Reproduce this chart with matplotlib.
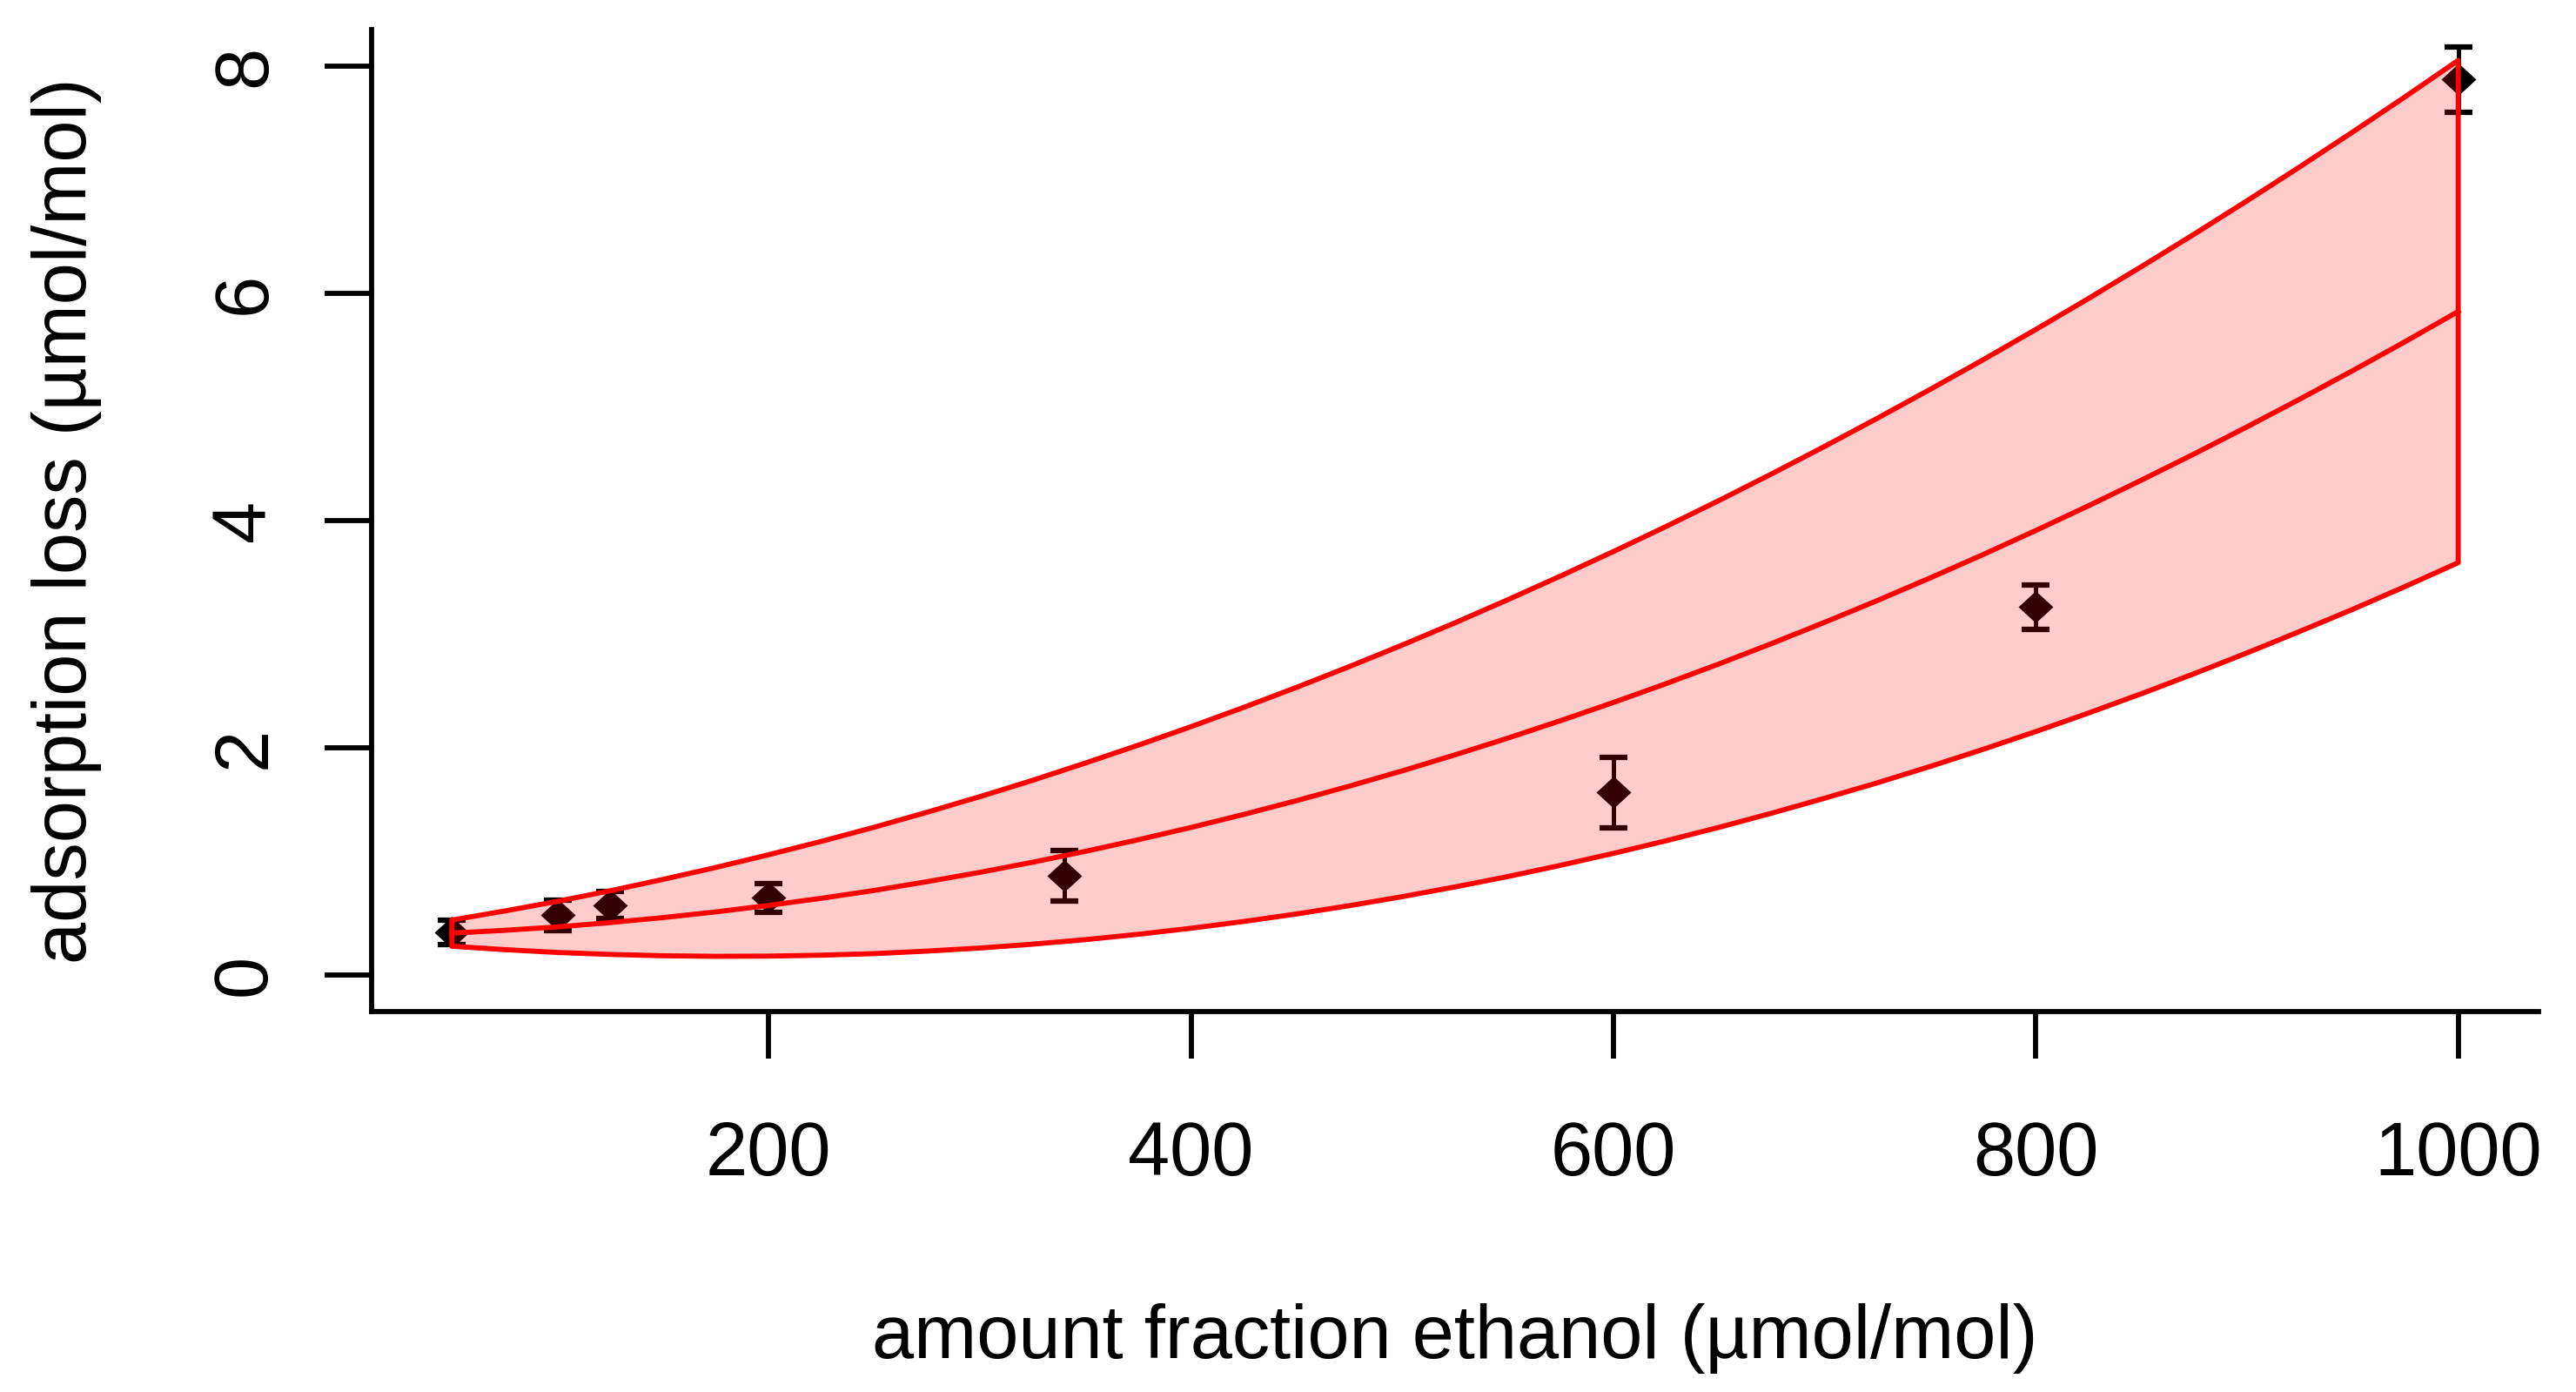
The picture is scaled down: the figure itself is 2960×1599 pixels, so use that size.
import numpy as np
import matplotlib
matplotlib.use("Agg")
from matplotlib import pyplot as plt

plt.rcParams['font.family'] = ['Liberation Sans', 'DejaVu Sans']

# measured points with their uncertainty
conc = [50, 100, 125, 200, 340, 600, 800, 1000]
loss = [0.378, 0.53, 0.617, 0.68, 0.876, 1.61, 3.24, 7.88]
loss_err = [0.109, 0.134, 0.119, 0.124, 0.22, 0.31, 0.195, 0.29]

# fitted curve and its band, every 25 units
grid = [50, 75, 100, 125, 150, 175, 200, 225, 250, 275,
        300, 325, 350, 375, 400, 425, 450, 475, 500, 525,
        550, 575, 600, 625, 650, 675, 700, 725, 750, 775,
        800, 825, 850, 875, 900, 925, 950, 975, 1000]
fit = [0.370, 0.395, 0.425, 0.463, 0.507, 0.557, 0.614, 0.677, 0.746, 0.823,
       0.905, 0.994, 1.090, 1.192, 1.300, 1.415, 1.536, 1.664, 1.798, 1.939,
       2.086, 2.240, 2.400, 2.566, 2.739, 2.919, 3.105, 3.297, 3.496, 3.701,
       3.913, 4.131, 4.356, 4.587, 4.825, 5.069, 5.319, 5.576, 5.840]
band_hi = [0.485, 0.565, 0.650, 0.743, 0.843, 0.948, 1.060, 1.178, 1.302, 1.434,
           1.571, 1.715, 1.867, 2.024, 2.187, 2.357, 2.533, 2.716, 2.905, 3.101,
           3.304, 3.513, 3.728, 3.949, 4.177, 4.412, 4.653, 4.901, 5.155, 5.415,
           5.682, 5.955, 6.235, 6.521, 6.814, 7.113, 7.419, 7.731, 8.050]
band_lo = [0.255, 0.225, 0.200, 0.183, 0.171, 0.166, 0.168, 0.176, 0.190, 0.212,
           0.239, 0.273, 0.313, 0.360, 0.413, 0.473, 0.539, 0.612, 0.691, 0.777,
           0.868, 0.967, 1.072, 1.183, 1.301, 1.426, 1.557, 1.693, 1.837, 1.987,
           2.144, 2.307, 2.477, 2.653, 2.836, 3.025, 3.219, 3.421, 3.630]

xticks = [200, 400, 600, 800, 1000]
yticks = [0, 2, 4, 6, 8]

fig = plt.figure(figsize=(2961 / 300, 1599 / 300), dpi=300)
ax = fig.add_axes([0.1442, 0.2733, 0.9851 - 0.1442, 0.9787 - 0.2733])

# points first, the band is drawn over them (like R with alpha fill)
ax.errorbar(conc, loss, yerr=loss_err, fmt='none', ecolor='black',
            elinewidth=1.2, capsize=3.8, capthick=1.5, zorder=1)
diamond = [(0, 0.92), (1, 0), (0, -0.92), (-1, 0), (0, 0.92)]
ax.plot(conc, loss, linestyle='none', marker=diamond, markersize=9.6,
        color='black', markeredgewidth=0, zorder=1)

poly_x = np.concatenate([grid, grid[::-1]])
poly_y = np.concatenate([band_hi, band_lo[::-1]])
ax.fill(poly_x, poly_y, facecolor=(1, 0, 0, 0.2), edgecolor='red',
        linewidth=1.4, joinstyle='round', zorder=2)
ax.plot(grid, fit, color='red', linewidth=1.4, zorder=3)

ax.set_xlim(12, 1038)
ax.set_ylim(-0.32, 8.32)
ax.set_xticks(xticks)
ax.set_yticks(yticks)
ax.set_yticklabels([str(t) for t in yticks], rotation=90, va='center')

for side in ['top', 'right']:
    ax.spines[side].set_visible(False)
for side in ['left', 'bottom']:
    ax.spines[side].set_linewidth(1.4)

ax.tick_params(axis='both', direction='out', length=13, width=1.4,
               labelsize=20.8, colors='black')
ax.tick_params(axis='x', pad=17)
ax.tick_params(axis='y', pad=12)

ax.set_xlabel('amount fraction ethanol (µmol/mol)', fontsize=20.8, labelpad=31)
ax.set_ylabel('adsorption loss (µmol/mol)', fontsize=20.8, labelpad=30)

fig.savefig('out.png', dpi=300)
